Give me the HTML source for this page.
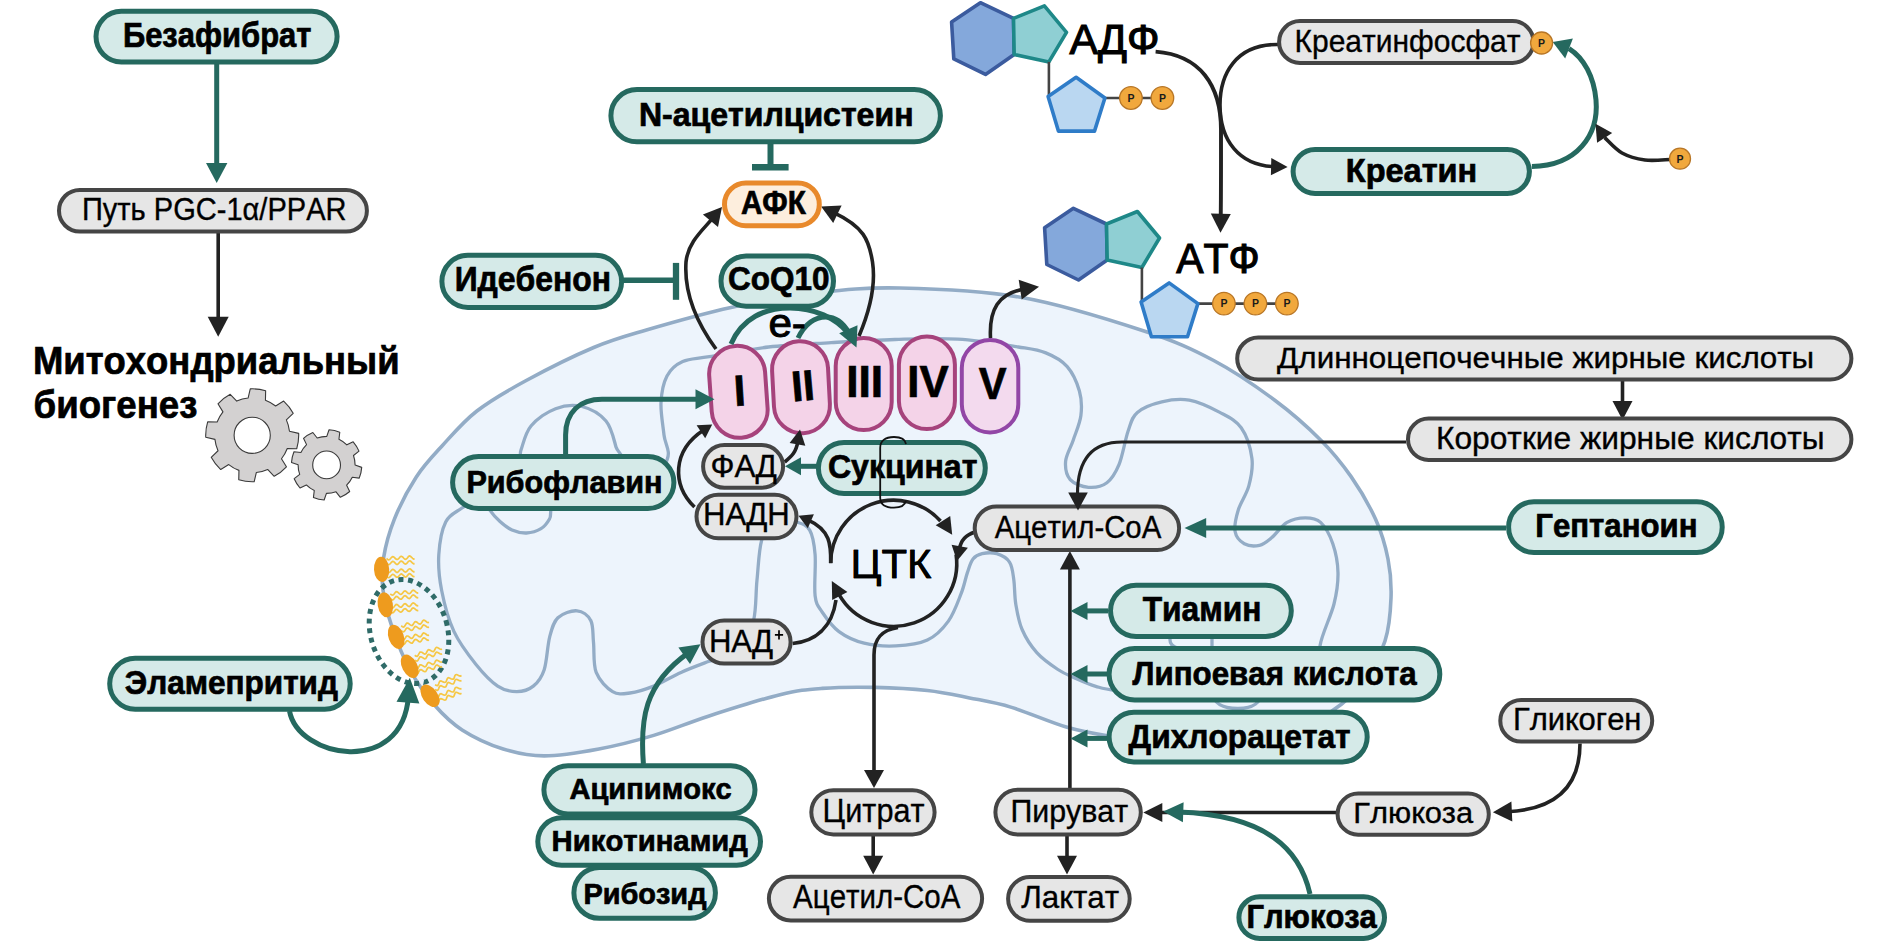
<!DOCTYPE html>
<html><head><meta charset="utf-8"><style>
html,body{margin:0;padding:0;background:#fff;}
svg{display:block;font-family:"Liberation Sans",sans-serif;font-kerning:none;}
</style></head><body>
<svg width="1878" height="950" viewBox="0 0 1878 950">
<rect width="1878" height="950" fill="#fff"/>
<path d="M 383.0,590.0 C 381.6,578.5 381.7,569.6 383.6,557.7 C 385.5,545.9 389.1,532.4 394.5,518.9 C 399.9,505.4 408.4,489.1 416.3,477.0 C 424.2,464.9 431.9,457.0 442.0,446.0 C 452.1,435.0 463.0,421.8 476.9,411.0 C 490.8,400.2 505.8,391.6 525.3,381.0 C 544.8,370.4 573.5,356.0 593.7,347.5 C 613.9,339.0 623.5,336.7 646.4,330.0 C 669.3,323.3 702.9,313.7 731.0,307.5 C 759.1,301.3 786.8,296.2 815.0,293.0 C 843.2,289.8 865.5,287.2 900.0,288.0 C 934.5,288.8 981.3,290.3 1022.0,297.5 C 1062.7,304.7 1112.0,320.5 1144.0,331.0 C 1176.0,341.5 1191.9,349.0 1213.7,360.5 C 1235.5,372.0 1257.0,387.0 1274.8,400.2 C 1292.6,413.4 1307.9,427.2 1320.6,439.9 C 1333.3,452.6 1341.9,463.4 1351.1,476.6 C 1360.3,489.8 1369.4,505.6 1375.6,519.3 C 1381.8,533.0 1385.4,545.9 1388.0,559.0 C 1390.6,572.1 1391.5,584.3 1391.0,598.0 C 1390.5,611.7 1389.2,627.8 1385.0,641.0 C 1380.8,654.2 1373.2,666.5 1366.0,677.0 C 1358.8,687.5 1352.7,695.5 1341.7,704.0 C 1330.7,712.5 1317.0,721.7 1300.0,728.0 C 1283.0,734.3 1261.7,739.3 1240.0,742.0 C 1218.3,744.7 1191.0,744.9 1170.0,744.0 C 1149.0,743.1 1130.7,739.5 1113.7,736.8 C 1096.7,734.1 1085.0,732.5 1068.0,727.6 C 1051.0,722.7 1028.0,712.4 1011.6,707.4 C 995.2,702.4 983.5,700.7 969.5,697.9 C 955.5,695.1 943.2,692.2 927.4,690.5 C 911.6,688.8 892.2,687.8 874.7,687.4 C 857.2,687.0 837.9,687.2 822.1,688.4 C 806.3,689.6 799.0,690.1 780.0,694.7 C 761.0,699.3 729.4,709.4 708.4,716.2 C 687.4,723.0 672.0,729.9 653.7,735.4 C 635.5,740.9 617.1,745.6 598.9,749.0 C 580.6,752.4 560.2,755.9 544.2,755.9 C 528.2,755.9 516.9,753.3 503.2,749.0 C 489.5,744.7 473.5,737.2 462.1,729.9 C 450.7,722.6 443.4,715.3 434.7,705.3 C 426.0,695.3 417.1,683.0 410.0,670.0 C 402.9,657.0 396.5,640.3 392.0,627.0 C 387.5,613.7 384.4,601.5 383.0,590.0 Z" fill="#EDF4FC" stroke="#93ACC6" stroke-width="3.6"/>
<path d="M 709.4,356.6 C 695.1,359.0 689.8,358.3 682.7,361.5 C 675.6,364.7 670.6,369.1 667.0,376.0 C 663.4,382.9 661.5,392.9 661.0,402.7 C 660.5,412.5 663.0,425.4 664.0,435.0 C 665.0,444.6 671.0,450.8 667.0,460.0 C 663.0,469.2 655.3,482.5 640.0,490.0 C 624.7,497.5 589.7,502.3 575.0,505.0 C 560.3,507.7 556.0,504.8 552.0,506.0 C 548.0,507.2 551.1,509.8 550.7,512.0 C 550.3,514.2 551.1,516.2 549.5,519.0 C 547.9,521.8 544.8,526.4 541.0,528.7 C 537.2,531.0 531.3,532.8 526.5,533.0 C 521.7,533.2 516.4,531.9 512.0,530.0 C 507.6,528.1 503.6,524.7 500.0,521.5 C 496.4,518.3 492.5,513.9 490.2,510.6 C 487.9,507.4 484.4,505.4 486.0,502.0 C 487.6,498.6 487.7,493.7 500.0,490.0 C 512.3,486.3 540.3,484.7 560.0,480.0 C 579.7,475.3 608.7,467.5 618.0,462.0 C 627.3,456.5 618.0,453.8 616.0,447.0 C 614.0,440.2 611.7,427.8 606.0,421.0 C 600.3,414.2 590.4,408.6 582.0,406.5 C 573.6,404.4 564.1,405.4 555.6,408.7 C 547.1,411.9 536.8,419.1 531.0,426.0 C 525.2,432.9 523.2,444.0 521.0,450.0 C 518.8,456.0 523.2,455.3 518.0,462.0 C 512.8,468.7 499.3,482.3 490.0,490.0 C 480.7,497.7 469.4,502.7 462.0,508.0 C 454.6,513.3 449.6,514.1 445.7,521.9 C 441.8,529.7 439.5,543.3 438.8,554.7 C 438.1,566.1 439.1,577.5 441.6,590.3 C 444.1,603.1 448.2,619.1 453.9,631.4 C 459.6,643.7 468.5,655.1 475.8,664.2 C 483.1,673.3 490.9,681.5 497.7,686.1 C 504.5,690.7 510.9,691.6 516.8,691.6 C 522.7,691.6 528.7,689.8 533.3,686.1 C 537.9,682.5 541.5,677.9 544.2,669.7 C 546.9,661.5 547.4,645.5 549.7,636.8 C 552.0,628.1 553.4,622.0 557.9,617.7 C 562.4,613.4 571.5,610.3 577.0,610.8 C 582.5,611.2 588.0,615.1 590.7,620.4 C 593.5,625.6 592.6,633.6 593.5,642.3 C 594.4,651.0 593.0,664.2 596.2,672.4 C 599.4,680.6 607.0,688.2 612.6,691.6 C 618.2,695.0 623.1,693.9 630.0,693.0 C 636.9,692.1 645.2,689.5 653.7,686.1 C 662.2,682.7 671.9,676.5 681.0,672.4 C 690.1,668.3 698.6,665.2 708.4,661.5 C 718.2,657.8 732.5,656.9 740.0,650.0 C 747.5,643.1 750.8,632.1 753.6,620.4 C 756.4,608.7 755.6,593.5 757.0,580.0 C 758.4,566.5 758.8,549.7 761.8,539.7 C 764.8,529.7 769.3,523.0 775.0,520.0 C 780.7,517.0 790.2,520.2 796.0,521.9 C 801.8,523.6 806.5,524.6 809.7,530.1 C 812.9,535.6 814.2,543.8 815.1,554.7 C 816.0,565.7 813.9,586.2 815.1,595.8 C 816.3,605.3 818.1,606.0 822.1,612.0 C 826.1,618.0 832.0,626.4 839.0,631.6 C 846.0,636.8 854.7,640.8 864.2,643.2 C 873.7,645.6 885.3,646.4 895.8,645.9 C 906.3,645.4 918.6,644.1 927.4,640.0 C 936.2,635.9 942.8,628.8 948.4,621.1 C 954.0,613.4 957.9,601.8 961.1,593.7 C 964.3,585.6 965.4,578.4 967.4,572.6 C 969.4,566.8 970.5,562.1 973.0,559.0 C 975.5,555.9 978.1,554.6 982.1,553.7 C 986.1,552.8 992.2,552.3 996.8,553.7 C 1001.4,555.1 1006.7,557.9 1009.5,562.1 C 1012.3,566.3 1012.7,571.9 1013.7,578.9 C 1014.8,585.9 1014.4,595.8 1015.8,604.2 C 1017.2,612.6 1018.6,621.4 1022.1,629.5 C 1025.6,637.6 1030.8,645.9 1036.8,652.6 C 1042.8,659.3 1051.6,665.3 1057.9,669.5 C 1064.2,673.7 1068.4,675.1 1074.7,677.9 C 1081.0,680.7 1088.8,684.2 1095.8,686.3 C 1102.8,688.4 1102.8,689.0 1116.8,690.5 C 1130.8,692.0 1156.1,694.2 1180.0,695.0 C 1203.9,695.8 1239.2,696.2 1260.0,695.0 C 1280.8,693.8 1294.0,692.5 1305.0,688.0 C 1316.0,683.5 1323.5,675.0 1326.0,668.0 C 1328.5,661.0 1318.7,656.7 1320.0,646.0 C 1321.3,635.3 1331.0,616.2 1334.0,604.0 C 1337.0,591.8 1338.2,582.8 1338.0,572.8 C 1337.8,562.8 1335.7,552.1 1332.8,543.7 C 1329.9,535.3 1325.2,526.7 1320.6,522.4 C 1316.0,518.1 1310.9,517.8 1305.3,517.8 C 1299.7,517.8 1292.6,519.1 1287.0,522.4 C 1281.4,525.7 1276.4,533.8 1271.8,537.6 C 1267.2,541.4 1264.1,544.3 1259.5,545.3 C 1254.9,546.3 1248.4,546.0 1244.3,543.7 C 1240.2,541.4 1236.1,537.1 1235.1,531.5 C 1234.1,525.9 1235.9,517.8 1238.2,510.2 C 1240.5,502.6 1246.6,494.4 1248.9,485.7 C 1251.2,477.0 1253.2,467.9 1251.9,458.2 C 1250.6,448.5 1246.6,435.3 1241.2,427.7 C 1235.8,420.1 1228.5,417.0 1219.8,412.4 C 1211.1,407.8 1199.0,402.0 1189.3,400.2 C 1179.6,398.4 1170.4,399.8 1161.8,401.8 C 1153.2,403.8 1143.0,407.6 1137.4,412.4 C 1131.8,417.2 1131.2,422.1 1128.2,430.8 C 1125.2,439.5 1122.6,455.8 1119.1,464.4 C 1115.5,473.0 1112.0,478.9 1106.9,482.7 C 1101.8,486.5 1094.6,487.8 1088.5,487.3 C 1082.4,486.8 1074.0,483.9 1070.2,479.6 C 1066.4,475.3 1065.1,467.9 1065.6,461.3 C 1066.1,454.7 1070.8,447.5 1073.3,439.9 C 1075.8,432.3 1079.9,423.6 1080.9,415.5 C 1081.9,407.4 1081.7,399.1 1079.4,391.0 C 1077.1,382.9 1072.8,373.0 1067.2,366.6 C 1061.6,360.2 1054.0,356.2 1045.8,352.9 C 1037.6,349.6 1033.0,349.3 1018.3,347.0 C 1003.6,344.7 978.1,340.4 957.6,339.2 C 937.1,337.9 916.1,338.9 895.0,339.5 C 873.9,340.1 852.3,341.4 831.2,342.6 C 810.1,343.9 788.9,344.7 768.6,347.0 C 748.3,349.3 723.7,354.2 709.4,356.6 Z" fill="none" stroke="#93ACC6" stroke-width="3.3" stroke-linecap="butt" />
<path d="M 1212,615 L 1212,690 C 1212,704 1224,708.5 1238,708.5 C 1252,708.5 1262,703 1262,690 L 1262,665 C 1262,652 1240,650 1200,650 C 1180,650 1170,648 1170,640 L 1170,615" fill="none" stroke="#93ACC6" stroke-width="3.3" stroke-linecap="butt" />
<ellipse cx="409" cy="631.5" rx="38.5" ry="53" transform="rotate(-16 409 631.5)" fill="none" stroke="#2F6B68" stroke-width="5" stroke-dasharray="5 4.6"/>
<path d="M 386.6,558.4 L 387.6,559.5 L 388.7,559.9 L 389.6,559.5 L 390.6,558.5 L 391.6,557.3 L 392.5,556.6 L 393.5,556.8 L 394.6,557.6 L 395.6,558.8 L 396.6,559.5 L 397.6,559.5 L 398.6,558.7 L 399.6,557.5 L 400.5,556.5 L 401.5,556.3 L 402.6,556.9 L 403.6,558.0 L 404.6,559.0 L 405.6,559.3 L 406.6,558.8 L 407.6,557.7 L 408.5,556.5 L 409.5,556.0 L 410.5,556.3 L 411.6,557.3 L 412.6,558.4 L 413.6,559.0 L 414.6,558.8" fill="none" stroke="#F6C744" stroke-width="1.7"/>
<path d="M 386.6,563.2 L 387.6,564.3 L 388.7,564.7 L 389.6,564.3 L 390.6,563.3 L 391.6,562.1 L 392.5,561.4 L 393.5,561.6 L 394.6,562.4 L 395.6,563.6 L 396.6,564.3 L 397.6,564.3 L 398.6,563.5 L 399.6,562.3 L 400.5,561.3 L 401.5,561.1 L 402.6,561.7 L 403.6,562.8 L 404.6,563.8 L 405.6,564.1 L 406.6,563.6 L 407.6,562.5 L 408.5,561.3 L 409.5,560.8 L 410.5,561.1 L 411.6,562.1 L 412.6,563.2 L 413.6,563.8 L 414.6,563.6" fill="none" stroke="#F6C744" stroke-width="1.7"/>
<path d="M 386.6,571.2 L 387.6,572.3 L 388.7,572.7 L 389.6,572.3 L 390.6,571.3 L 391.6,570.1 L 392.5,569.4 L 393.5,569.6 L 394.6,570.4 L 395.6,571.6 L 396.6,572.3 L 397.6,572.3 L 398.6,571.5 L 399.6,570.3 L 400.5,569.3 L 401.5,569.1 L 402.6,569.7 L 403.6,570.8 L 404.6,571.8 L 405.6,572.1 L 406.6,571.6 L 407.6,570.5 L 408.5,569.3 L 409.5,568.8 L 410.5,569.1 L 411.6,570.1 L 412.6,571.2 L 413.6,571.8 L 414.6,571.6" fill="none" stroke="#F6C744" stroke-width="1.7"/>
<path d="M 386.6,576.1 L 387.6,577.2 L 388.7,577.6 L 389.6,577.2 L 390.6,576.2 L 391.6,575.0 L 392.5,574.3 L 393.5,574.5 L 394.6,575.3 L 395.6,576.5 L 396.6,577.2 L 397.6,577.2 L 398.6,576.4 L 399.6,575.2 L 400.5,574.2 L 401.5,574.0 L 402.6,574.6 L 403.6,575.7 L 404.6,576.7 L 405.6,577.0 L 406.6,576.5 L 407.6,575.4 L 408.5,574.2 L 409.5,573.7 L 410.5,574.0 L 411.6,575.0 L 412.6,576.1 L 413.6,576.7 L 414.6,576.5" fill="none" stroke="#F6C744" stroke-width="1.7"/>
<path d="M 390.3,593.8 L 391.4,594.8 L 392.4,595.2 L 393.4,594.8 L 394.3,593.7 L 395.2,592.5 L 396.1,591.7 L 397.2,591.8 L 398.2,592.6 L 399.3,593.7 L 400.4,594.4 L 401.4,594.3 L 402.3,593.4 L 403.2,592.2 L 404.1,591.2 L 405.1,590.9 L 406.2,591.5 L 407.3,592.6 L 408.3,593.5 L 409.4,593.7 L 410.3,593.1 L 411.2,592.0 L 412.1,590.8 L 413.1,590.2 L 414.1,590.5 L 415.2,591.4 L 416.3,592.4 L 417.3,593.0 L 418.3,592.7" fill="none" stroke="#F6C744" stroke-width="1.7"/>
<path d="M 390.3,598.6 L 391.4,599.6 L 392.4,600.0 L 393.4,599.6 L 394.3,598.5 L 395.2,597.3 L 396.1,596.5 L 397.2,596.6 L 398.2,597.4 L 399.3,598.5 L 400.4,599.2 L 401.4,599.1 L 402.3,598.2 L 403.2,597.0 L 404.1,596.0 L 405.1,595.7 L 406.2,596.3 L 407.3,597.4 L 408.3,598.3 L 409.4,598.5 L 410.3,597.9 L 411.2,596.8 L 412.1,595.6 L 413.1,595.0 L 414.1,595.3 L 415.2,596.2 L 416.3,597.2 L 417.3,597.8 L 418.3,597.5" fill="none" stroke="#F6C744" stroke-width="1.7"/>
<path d="M 390.3,606.6 L 391.4,607.6 L 392.4,608.0 L 393.4,607.6 L 394.3,606.5 L 395.2,605.3 L 396.1,604.5 L 397.2,604.6 L 398.2,605.4 L 399.3,606.5 L 400.4,607.2 L 401.4,607.1 L 402.3,606.2 L 403.2,605.0 L 404.1,604.0 L 405.1,603.7 L 406.2,604.3 L 407.3,605.4 L 408.3,606.3 L 409.4,606.5 L 410.3,605.9 L 411.2,604.8 L 412.1,603.6 L 413.1,603.0 L 414.1,603.3 L 415.2,604.2 L 416.3,605.2 L 417.3,605.8 L 418.3,605.5" fill="none" stroke="#F6C744" stroke-width="1.7"/>
<path d="M 390.3,611.5 L 391.4,612.5 L 392.4,612.9 L 393.4,612.5 L 394.3,611.4 L 395.2,610.2 L 396.1,609.4 L 397.2,609.5 L 398.2,610.3 L 399.3,611.4 L 400.4,612.1 L 401.4,612.0 L 402.3,611.1 L 403.2,609.9 L 404.1,608.9 L 405.1,608.6 L 406.2,609.2 L 407.3,610.3 L 408.3,611.2 L 409.4,611.4 L 410.3,610.8 L 411.2,609.7 L 412.1,608.5 L 413.1,607.9 L 414.1,608.2 L 415.2,609.1 L 416.3,610.1 L 417.3,610.7 L 418.3,610.4" fill="none" stroke="#F6C744" stroke-width="1.7"/>
<path d="M 401.2,625.8 L 402.4,626.7 L 403.4,627.0 L 404.4,626.5 L 405.2,625.3 L 406.0,624.0 L 406.8,623.2 L 407.9,623.2 L 409.0,623.9 L 410.2,624.9 L 411.3,625.5 L 412.3,625.4 L 413.1,624.4 L 413.9,623.1 L 414.7,622.0 L 415.7,621.7 L 416.8,622.1 L 418.0,623.1 L 419.1,623.9 L 420.2,624.1 L 421.1,623.4 L 421.9,622.2 L 422.7,620.9 L 423.6,620.2 L 424.6,620.4 L 425.8,621.2 L 427.0,622.2 L 428.1,622.6 L 429.0,622.3" fill="none" stroke="#F6C744" stroke-width="1.7"/>
<path d="M 401.2,630.6 L 402.4,631.5 L 403.4,631.8 L 404.4,631.3 L 405.2,630.1 L 406.0,628.8 L 406.8,628.0 L 407.9,628.0 L 409.0,628.7 L 410.2,629.7 L 411.3,630.3 L 412.3,630.2 L 413.1,629.2 L 413.9,627.9 L 414.7,626.8 L 415.7,626.5 L 416.8,626.9 L 418.0,627.9 L 419.1,628.7 L 420.2,628.9 L 421.1,628.2 L 421.9,627.0 L 422.7,625.7 L 423.6,625.0 L 424.6,625.2 L 425.8,626.0 L 427.0,627.0 L 428.1,627.4 L 429.0,627.1" fill="none" stroke="#F6C744" stroke-width="1.7"/>
<path d="M 401.2,638.6 L 402.4,639.5 L 403.4,639.8 L 404.4,639.3 L 405.2,638.1 L 406.0,636.8 L 406.8,636.0 L 407.9,636.0 L 409.0,636.7 L 410.2,637.7 L 411.3,638.3 L 412.3,638.2 L 413.1,637.2 L 413.9,635.9 L 414.7,634.8 L 415.7,634.5 L 416.8,634.9 L 418.0,635.9 L 419.1,636.7 L 420.2,636.9 L 421.1,636.2 L 421.9,635.0 L 422.7,633.7 L 423.6,633.0 L 424.6,633.2 L 425.8,634.0 L 427.0,635.0 L 428.1,635.4 L 429.0,635.1" fill="none" stroke="#F6C744" stroke-width="1.7"/>
<path d="M 401.2,643.5 L 402.4,644.4 L 403.4,644.7 L 404.4,644.2 L 405.2,643.0 L 406.0,641.7 L 406.8,640.9 L 407.9,640.9 L 409.0,641.6 L 410.2,642.6 L 411.3,643.2 L 412.3,643.1 L 413.1,642.1 L 413.9,640.8 L 414.7,639.7 L 415.7,639.4 L 416.8,639.8 L 418.0,640.8 L 419.1,641.6 L 420.2,641.8 L 421.1,641.1 L 421.9,639.9 L 422.7,638.6 L 423.6,637.9 L 424.6,638.1 L 425.8,638.9 L 427.0,639.9 L 428.1,640.3 L 429.0,640.0" fill="none" stroke="#F6C744" stroke-width="1.7"/>
<path d="M 414.7,655.3 L 416.0,656.1 L 417.1,656.3 L 417.9,655.7 L 418.6,654.4 L 419.3,653.1 L 420.0,652.1 L 421.0,652.0 L 422.3,652.6 L 423.5,653.5 L 424.7,654.0 L 425.7,653.7 L 426.4,652.7 L 427.1,651.3 L 427.8,650.1 L 428.7,649.7 L 429.8,650.0 L 431.1,650.8 L 432.3,651.5 L 433.4,651.6 L 434.2,650.8 L 434.9,649.5 L 435.5,648.2 L 436.4,647.4 L 437.4,647.5 L 438.7,648.2 L 439.9,649.0 L 441.1,649.4 L 442.0,648.9" fill="none" stroke="#F6C744" stroke-width="1.7"/>
<path d="M 414.7,660.1 L 416.0,660.9 L 417.1,661.1 L 417.9,660.5 L 418.6,659.2 L 419.3,657.9 L 420.0,656.9 L 421.0,656.8 L 422.3,657.4 L 423.5,658.3 L 424.7,658.8 L 425.7,658.5 L 426.4,657.5 L 427.1,656.1 L 427.8,654.9 L 428.7,654.5 L 429.8,654.8 L 431.1,655.6 L 432.3,656.3 L 433.4,656.4 L 434.2,655.6 L 434.9,654.3 L 435.5,653.0 L 436.4,652.2 L 437.4,652.3 L 438.7,653.0 L 439.9,653.8 L 441.1,654.2 L 442.0,653.7" fill="none" stroke="#F6C744" stroke-width="1.7"/>
<path d="M 414.7,668.1 L 416.0,668.9 L 417.1,669.1 L 417.9,668.5 L 418.6,667.2 L 419.3,665.9 L 420.0,664.9 L 421.0,664.8 L 422.3,665.4 L 423.5,666.3 L 424.7,666.8 L 425.7,666.5 L 426.4,665.5 L 427.1,664.1 L 427.8,662.9 L 428.7,662.5 L 429.8,662.8 L 431.1,663.6 L 432.3,664.3 L 433.4,664.4 L 434.2,663.6 L 434.9,662.3 L 435.5,661.0 L 436.4,660.2 L 437.4,660.3 L 438.7,661.0 L 439.9,661.8 L 441.1,662.2 L 442.0,661.7" fill="none" stroke="#F6C744" stroke-width="1.7"/>
<path d="M 414.7,673.0 L 416.0,673.8 L 417.1,674.0 L 417.9,673.4 L 418.6,672.1 L 419.3,670.8 L 420.0,669.8 L 421.0,669.7 L 422.3,670.3 L 423.5,671.2 L 424.7,671.7 L 425.7,671.4 L 426.4,670.4 L 427.1,669.0 L 427.8,667.8 L 428.7,667.4 L 429.8,667.7 L 431.1,668.5 L 432.3,669.2 L 433.4,669.3 L 434.2,668.5 L 434.9,667.2 L 435.5,665.9 L 436.4,665.1 L 437.4,665.2 L 438.7,665.9 L 439.9,666.7 L 441.1,667.1 L 442.0,666.6" fill="none" stroke="#F6C744" stroke-width="1.7"/>
<path d="M 435.0,684.8 L 436.3,685.4 L 437.5,685.5 L 438.3,684.8 L 438.8,683.5 L 439.3,682.1 L 440.0,681.1 L 441.0,680.9 L 442.2,681.4 L 443.6,682.1 L 444.8,682.4 L 445.8,682.1 L 446.4,680.9 L 446.9,679.5 L 447.5,678.3 L 448.3,677.7 L 449.5,678.0 L 450.9,678.7 L 452.2,679.2 L 453.2,679.2 L 454.0,678.3 L 454.5,676.9 L 455.0,675.5 L 455.7,674.7 L 456.8,674.6 L 458.1,675.2 L 459.4,675.9 L 460.6,676.1 L 461.5,675.6" fill="none" stroke="#F6C744" stroke-width="1.7"/>
<path d="M 435.0,689.6 L 436.3,690.2 L 437.5,690.3 L 438.3,689.6 L 438.8,688.3 L 439.3,686.9 L 440.0,685.9 L 441.0,685.7 L 442.2,686.2 L 443.6,686.9 L 444.8,687.2 L 445.8,686.9 L 446.4,685.7 L 446.9,684.3 L 447.5,683.1 L 448.3,682.5 L 449.5,682.8 L 450.9,683.5 L 452.2,684.0 L 453.2,684.0 L 454.0,683.1 L 454.5,681.7 L 455.0,680.3 L 455.7,679.5 L 456.8,679.4 L 458.1,680.0 L 459.4,680.7 L 460.6,680.9 L 461.5,680.4" fill="none" stroke="#F6C744" stroke-width="1.7"/>
<path d="M 435.0,697.6 L 436.3,698.2 L 437.5,698.3 L 438.3,697.6 L 438.8,696.3 L 439.3,694.9 L 440.0,693.9 L 441.0,693.7 L 442.2,694.2 L 443.6,694.9 L 444.8,695.2 L 445.8,694.9 L 446.4,693.7 L 446.9,692.3 L 447.5,691.1 L 448.3,690.5 L 449.5,690.8 L 450.9,691.5 L 452.2,692.0 L 453.2,692.0 L 454.0,691.1 L 454.5,689.7 L 455.0,688.3 L 455.7,687.5 L 456.8,687.4 L 458.1,688.0 L 459.4,688.7 L 460.6,688.9 L 461.5,688.4" fill="none" stroke="#F6C744" stroke-width="1.7"/>
<path d="M 435.0,702.5 L 436.3,703.1 L 437.5,703.2 L 438.3,702.5 L 438.8,701.2 L 439.3,699.8 L 440.0,698.8 L 441.0,698.6 L 442.2,699.1 L 443.6,699.8 L 444.8,700.1 L 445.8,699.8 L 446.4,698.6 L 446.9,697.2 L 447.5,696.0 L 448.3,695.4 L 449.5,695.7 L 450.9,696.4 L 452.2,696.9 L 453.2,696.9 L 454.0,696.0 L 454.5,694.6 L 455.0,693.2 L 455.7,692.4 L 456.8,692.3 L 458.1,692.9 L 459.4,693.6 L 460.6,693.8 L 461.5,693.3" fill="none" stroke="#F6C744" stroke-width="1.7"/>
<ellipse cx="381.6" cy="569.4" rx="7.6" ry="12.6" transform="rotate(-3 381.6 569.4)" fill="#EE9B1E"/>
<ellipse cx="385.3" cy="604.8" rx="7.6" ry="12.6" transform="rotate(-10 385.3 604.8)" fill="#EE9B1E"/>
<ellipse cx="396.2" cy="636.8" rx="7.6" ry="12.6" transform="rotate(-20 396.2 636.8)" fill="#EE9B1E"/>
<ellipse cx="409.7" cy="666.3" rx="7.6" ry="12.6" transform="rotate(-28 409.7 666.3)" fill="#EE9B1E"/>
<ellipse cx="430" cy="695.8" rx="7.6" ry="12.6" transform="rotate(-35 430 695.8)" fill="#EE9B1E"/>
<path d="M 248.09,398.03 L 250.26,388.84 A 46.5,46.5 0 0 1 265.64,390.78 L 265.45,400.22 A 37.5,37.5 0 0 1 275.65,406.04 L 283.68,401.07 A 46.5,46.5 0 0 1 293.18,413.32 L 286.38,419.86 A 37.5,37.5 0 0 1 289.47,431.19 L 298.66,433.36 A 46.5,46.5 0 0 1 296.72,448.74 L 287.28,448.55 A 37.5,37.5 0 0 1 281.46,458.75 L 286.43,466.78 A 46.5,46.5 0 0 1 274.18,476.28 L 267.64,469.48 A 37.5,37.5 0 0 1 256.31,472.57 L 254.14,481.76 A 46.5,46.5 0 0 1 238.76,479.82 L 238.95,470.38 A 37.5,37.5 0 0 1 228.75,464.56 L 220.72,469.53 A 46.5,46.5 0 0 1 211.22,457.28 L 218.02,450.74 A 37.5,37.5 0 0 1 214.93,439.41 L 205.74,437.24 A 46.5,46.5 0 0 1 207.68,421.86 L 217.12,422.05 A 37.5,37.5 0 0 1 222.94,411.85 L 217.97,403.82 A 46.5,46.5 0 0 1 230.22,394.32 L 236.76,401.12 A 37.5,37.5 0 0 1 248.09,398.03 Z M 270.3,435.3 A 18.1,18.1 0 1 0 234.1,435.3 A 18.1,18.1 0 1 0 270.3,435.3 Z" fill="#D3D1D1" stroke="#3a3a3a" stroke-width="1.1" fill-rule="evenodd" stroke-linejoin="round"/>
<path d="M 326.77,436.40 L 329.06,429.79 A 35.2,35.2 0 0 1 339.78,432.26 L 338.94,439.21 A 28.5,28.5 0 0 1 346.87,444.86 L 353.17,441.81 A 35.2,35.2 0 0 1 359.00,451.14 L 353.49,455.47 A 28.5,28.5 0 0 1 355.10,465.07 L 361.71,467.36 A 35.2,35.2 0 0 1 359.24,478.08 L 352.29,477.24 A 28.5,28.5 0 0 1 346.64,485.17 L 349.69,491.47 A 35.2,35.2 0 0 1 340.36,497.30 L 336.03,491.79 A 28.5,28.5 0 0 1 326.43,493.40 L 324.14,500.01 A 35.2,35.2 0 0 1 313.42,497.54 L 314.26,490.59 A 28.5,28.5 0 0 1 306.33,484.94 L 300.03,487.99 A 35.2,35.2 0 0 1 294.20,478.66 L 299.71,474.33 A 28.5,28.5 0 0 1 298.10,464.73 L 291.49,462.44 A 35.2,35.2 0 0 1 293.96,451.72 L 300.91,452.56 A 28.5,28.5 0 0 1 306.56,444.63 L 303.51,438.33 A 35.2,35.2 0 0 1 312.84,432.50 L 317.17,438.01 A 28.5,28.5 0 0 1 326.77,436.40 Z M 340.5,464.9 A 13.9,13.9 0 1 0 312.7,464.9 A 13.9,13.9 0 1 0 340.5,464.9 Z" fill="#D3D1D1" stroke="#3a3a3a" stroke-width="1.1" fill-rule="evenodd" stroke-linejoin="round"/>
<rect x="710.4" y="345.8" width="56.0" height="92.0" rx="28.0" fill="#F4D3E8" stroke="#A6437C" stroke-width="4" transform="rotate(-4 738.4 391.8)"/>
<rect x="773.0" y="341.3" width="56.0" height="92.0" rx="28.0" fill="#F4D3E8" stroke="#A6437C" stroke-width="4" transform="rotate(-3 801.0 387.3)"/>
<rect x="835.7" y="338.0" width="56.0" height="92.0" rx="28.0" fill="#F4D3E8" stroke="#A6437C" stroke-width="4" transform="rotate(0 863.7 384.0)"/>
<rect x="898.9" y="336.6" width="56.0" height="92.5" rx="28.0" fill="#F4D3E8" stroke="#A6437C" stroke-width="4" transform="rotate(0 926.9 382.8)"/>
<rect x="961.8" y="339.9" width="56.5" height="92.5" rx="28.2" fill="#F3DAEE" stroke="#9246A6" stroke-width="4" transform="rotate(0 990.0 386.2)"/>
<path d="M 216.7,64.0 L 216.7,168.0" fill="none" stroke="#25695F" stroke-width="5" stroke-linecap="butt" />
<polygon points="216.7,183.0 206.0,163.0 227.4,163.0" fill="#25695F"/>
<path d="M 218.2,233.0 L 218.2,321.8" fill="none" stroke="#222222" stroke-width="3.6" stroke-linecap="butt" />
<polygon points="218.2,336.8 207.7,316.8 228.7,316.8" fill="#222222"/>
<path d="M 770.5,143 L 770.5,167" fill="none" stroke="#25695F" stroke-width="6" stroke-linecap="butt" />
<path d="M 752,167.2 L 788.6,167.2" fill="none" stroke="#25695F" stroke-width="6.5" stroke-linecap="butt" />
<path d="M 623,280.3 L 676,280.3" fill="none" stroke="#25695F" stroke-width="5.5" stroke-linecap="butt" />
<path d="M 676,262.9 L 676,299.8" fill="none" stroke="#25695F" stroke-width="6.3" stroke-linecap="butt" />
<path d="M 716.0,349.0 C 697.0,323.0 684.0,292.0 686.0,262.0 C 688.0,242.0 702.7,230.2 713.4,217.4 " fill="none" stroke="#222222" stroke-width="3.6" stroke-linecap="butt" />
<polygon points="722.0,207.0 718.0,227.1 702.9,214.6" fill="#222222"/>
<path d="M 859.0,336.0 C 870.0,310.0 876.0,285.0 872.5,262.0 C 869.0,240.0 864.1,226.9 833.3,212.4 " fill="none" stroke="#222222" stroke-width="3.6" stroke-linecap="butt" />
<polygon points="821.1,206.6 841.6,205.4 833.2,223.1" fill="#222222"/>
<path d="M 731,344 C 742,318 765,308 790,308 C 814,308 836,318 848,333" fill="none" stroke="#25695F" stroke-width="5" stroke-linecap="butt" />
<path d="M 798,338 C 805,324 815,317 826,317 C 836,317 844,324 849,333" fill="none" stroke="#25695F" stroke-width="5" stroke-linecap="butt" />
<polygon points="856.5,347.5 839.2,333.3 857.5,325.2" fill="#25695F"/>
<path d="M 990.5,338.0 C 989.0,310.0 998.0,293.1 1024.9,289.0 " fill="none" stroke="#222222" stroke-width="3.6" stroke-linecap="butt" />
<polygon points="1039.0,286.8 1021.7,299.6 1018.7,279.8" fill="#222222"/>
<path d="M 565.6,456.0 C 565.6,435.0 565.6,435.0 565.6,435.0 C 565.6,412.0 580.0,399.2 602.0,399.2 C 640.0,399.2 672.9,399.2 700.2,399.2 " fill="none" stroke="#25695F" stroke-width="5" stroke-linecap="butt" />
<polygon points="714.5,399.2 695.5,409.2 695.5,389.2" fill="#25695F"/>
<path d="M 694.5,507.0 C 672.0,485.0 671.8,450.8 703.7,429.9 " fill="none" stroke="#222222" stroke-width="3.6" stroke-linecap="butt" />
<polygon points="712.2,424.4 705.2,438.3 696.6,425.2" fill="#222222"/>
<path d="M 784.7,462.0 C 792.0,456.0 796.0,452.5 798.1,440.7 " fill="none" stroke="#222222" stroke-width="3.6" stroke-linecap="butt" />
<polygon points="800.0,429.6 805.3,445.7 789.6,443.0" fill="#222222"/>
<path d="M 817.0,466.3 L 797.0,466.3" fill="none" stroke="#25695F" stroke-width="5" stroke-linecap="butt" />
<polygon points="785.0,466.3 801.0,457.3 801.0,475.3" fill="#25695F"/>
<path d="M 830.7,563.2 A 63,63 0 0 1 940.5,521.0" fill="none" stroke="#222222" stroke-width="3.6" stroke-linecap="butt" />
<polygon points="952.2,534.8 935.7,525.2 950.2,515.9" fill="#222222"/>
<path d="M 956.1,554.4 A 63,63 0 0 1 839.1,594.7" fill="none" stroke="#222222" stroke-width="3.6" stroke-linecap="butt" />
<polygon points="831.8,581.0 847.4,592.0 832.2,600.0" fill="#222222"/>
<path d="M 830.7,563.0 C 831.0,545.0 830.6,530.1 807.8,519.9 " fill="none" stroke="#222222" stroke-width="3.6" stroke-linecap="butt" />
<polygon points="798.5,515.8 813.9,514.3 807.8,528.2" fill="#222222"/>
<path d="M 792.6,643.5 C 815,641 832,628 836,600" fill="none" stroke="#222222" stroke-width="3.6" stroke-linecap="butt" />
<path d="M 975.0,532.0 C 966.0,535.0 961.0,539.5 959.1,549.9 " fill="none" stroke="#222222" stroke-width="3.6" stroke-linecap="butt" />
<polygon points="957.0,561.0 951.6,544.7 967.9,547.8" fill="#222222"/>
<path d="M 898.0,627.5 C 882.0,630.0 874.0,638.0 874.0,655.0 C 874.0,700.0 874.0,733.2 874.0,774.5 " fill="none" stroke="#222222" stroke-width="3.6" stroke-linecap="butt" />
<polygon points="874.0,788.0 864.0,770.0 884.0,770.0" fill="#222222"/>
<path d="M 873.2,836.0 L 873.2,860.5" fill="none" stroke="#222222" stroke-width="3.6" stroke-linecap="butt" />
<polygon points="873.2,874.5 863.2,855.8 883.2,855.8" fill="#222222"/>
<path d="M 1067.0,836.0 L 1067.0,860.5" fill="none" stroke="#222222" stroke-width="3.6" stroke-linecap="butt" />
<polygon points="1067.0,874.5 1057.0,855.8 1077.0,855.8" fill="#222222"/>
<path d="M 1069.9,790.0 L 1069.9,565.0" fill="none" stroke="#222222" stroke-width="3.6" stroke-linecap="butt" />
<polygon points="1069.9,551.1 1079.9,569.6 1059.9,569.6" fill="#222222"/>
<path d="M 1108.0,610.9 L 1083.2,610.9" fill="none" stroke="#25695F" stroke-width="5" stroke-linecap="butt" />
<polygon points="1070.5,610.9 1087.5,601.9 1087.5,619.9" fill="#25695F"/>
<path d="M 1108.0,674.0 L 1083.2,674.0" fill="none" stroke="#25695F" stroke-width="5" stroke-linecap="butt" />
<polygon points="1070.5,674.0 1087.5,665.0 1087.5,683.0" fill="#25695F"/>
<path d="M 1108.0,738.4 L 1083.2,738.4" fill="none" stroke="#25695F" stroke-width="5" stroke-linecap="butt" />
<polygon points="1070.5,738.4 1087.5,729.4 1087.5,747.4" fill="#25695F"/>
<path d="M 1406,442 L 1122,442 C 1094,442 1077.5,458 1077.5,494" fill="none" stroke="#222222" stroke-width="3.1" stroke-linecap="butt" />
<path d="M 1506.0,528.1 L 1200.8,528.1" fill="none" stroke="#25695F" stroke-width="5" stroke-linecap="butt" />
<polygon points="1184.5,528.1 1206.2,518.1 1206.2,538.1" fill="#25695F"/>
<path d="M 1622.5,380.0 L 1622.5,405.8" fill="none" stroke="#222222" stroke-width="3.6" stroke-linecap="butt" />
<polygon points="1622.5,419.9 1612.5,401.1 1632.5,401.1" fill="#222222"/>
<path d="M 1580.0,743.5 C 1580.0,790.0 1552.1,809.7 1507.1,811.7 " fill="none" stroke="#222222" stroke-width="3.6" stroke-linecap="butt" />
<polygon points="1492.9,812.3 1511.4,801.5 1512.3,821.5" fill="#222222"/>
<path d="M 1336.0,812.5 L 1157.5,812.5" fill="none" stroke="#222222" stroke-width="3.6" stroke-linecap="butt" />
<polygon points="1143.3,812.5 1162.3,803.0 1162.3,822.0" fill="#222222"/>
<path d="M 1310.0,894.0 C 1300.0,850.0 1267.5,815.3 1178.3,812.1 " fill="none" stroke="#25695F" stroke-width="5" stroke-linecap="butt" />
<polygon points="1163.3,811.6 1183.6,802.3 1182.9,822.3" fill="#25695F"/>
<path d="M 643.4,764.0 C 640.0,720.0 643.9,684.3 688.3,652.9 " fill="none" stroke="#25695F" stroke-width="5" stroke-linecap="butt" />
<polygon points="700.5,644.2 690.0,663.9 678.4,647.6" fill="#25695F"/>
<path d="M 289.5,711.0 C 298.0,758.0 402.3,777.3 408.4,696.4 " fill="none" stroke="#25695F" stroke-width="5" stroke-linecap="butt" />
<polygon points="409.8,677.7 419.4,703.5 396.5,701.8" fill="#25695F"/>
<path d="M 1155.6,51.6 C 1200.0,55.0 1221.0,85.0 1221.0,130.0 C 1221.0,170.0 1221.1,192.9 1220.7,218.6 " fill="none" stroke="#222222" stroke-width="3.9" stroke-linecap="butt" />
<polygon points="1220.5,232.8 1210.8,213.6 1230.8,214.0" fill="#222222"/>
<path d="M 1278.0,44.5 C 1235.0,44.0 1220.0,75.0 1220.0,105.0 C 1220.0,140.0 1238.8,165.9 1275.2,166.7 " fill="none" stroke="#222222" stroke-width="3.6" stroke-linecap="butt" />
<polygon points="1287.6,167.0 1270.9,175.2 1271.3,158.0" fill="#222222"/>
<path d="M 1531.9,166.5 C 1577,166 1599,135 1596,100 C 1594,77 1584,58 1569,48.6" fill="none" stroke="#25695F" stroke-width="5" stroke-linecap="butt" />
<polygon points="1552.7,42.1 1572.9,38.4 1565.2,58.4" fill="#25695F"/>
<path d="M 1670.0,159.5 C 1665.8,159.6 1653.0,161.1 1645.0,160.0 C 1637.0,158.9 1628.7,156.7 1622.0,153.0 C 1615.3,149.3 1607.6,140.2 1604.7,137.7 " fill="none" stroke="#222222" stroke-width="3.6" stroke-linecap="butt" />
<polygon points="1595.5,123.7 1612.2,132.9 1597.1,142.7" fill="#222222"/>
<rect x="59.0" y="189.9" width="307.9" height="41.7" rx="20.8" fill="#E6E6E6" stroke="#454545" stroke-width="4"/>
<rect x="1279.1" y="21.1" width="254.4" height="41.8" rx="20.9" fill="#E6E6E6" stroke="#454545" stroke-width="4"/>
<rect x="1237.2" y="337.6" width="614.2" height="42.0" rx="21.0" fill="#E6E6E6" stroke="#454545" stroke-width="4"/>
<rect x="1408.0" y="418.6" width="443.4" height="41.3" rx="20.6" fill="#E6E6E6" stroke="#454545" stroke-width="4"/>
<rect x="703.1" y="445.1" width="80.0" height="42.6" rx="21.3" fill="#E6E6E6" stroke="#454545" stroke-width="4"/>
<rect x="696.5" y="494.8" width="100.0" height="43.4" rx="21.7" fill="#E6E6E6" stroke="#454545" stroke-width="4"/>
<rect x="702.5" y="620.4" width="88.1" height="43.2" rx="21.6" fill="#E6E6E6" stroke="#454545" stroke-width="4"/>
<rect x="974.7" y="506.6" width="204.4" height="43.4" rx="21.7" fill="#E6E6E6" stroke="#454545" stroke-width="4"/>
<rect x="811.3" y="790.2" width="123.3" height="44.2" rx="22.1" fill="#E6E6E6" stroke="#454545" stroke-width="4"/>
<rect x="768.9" y="876.8" width="213.2" height="43.6" rx="21.8" fill="#E6E6E6" stroke="#454545" stroke-width="4"/>
<rect x="995.4" y="789.8" width="145.4" height="44.7" rx="22.4" fill="#E6E6E6" stroke="#454545" stroke-width="4"/>
<rect x="1008.1" y="877.0" width="121.6" height="43.7" rx="21.9" fill="#E6E6E6" stroke="#454545" stroke-width="4"/>
<rect x="1337.6" y="793.6" width="151.2" height="41.1" rx="20.6" fill="#E6E6E6" stroke="#454545" stroke-width="4"/>
<rect x="1500.3" y="699.9" width="151.9" height="41.7" rx="20.9" fill="#E6E6E6" stroke="#454545" stroke-width="4"/>
<rect x="96.0" y="11.3" width="241.1" height="50.6" rx="25.3" fill="#D5EAE8" stroke="#25695F" stroke-width="5"/>
<rect x="610.9" y="89.6" width="329.5" height="52.2" rx="26.1" fill="#D5EAE8" stroke="#25695F" stroke-width="5"/>
<rect x="441.9" y="255.3" width="179.7" height="52.1" rx="26.0" fill="#D5EAE8" stroke="#25695F" stroke-width="5"/>
<rect x="721.0" y="256.0" width="112.5" height="50.2" rx="25.1" fill="#D5EAE8" stroke="#25695F" stroke-width="5"/>
<rect x="452.6" y="456.6" width="221.3" height="52.0" rx="26.0" fill="#D5EAE8" stroke="#25695F" stroke-width="5"/>
<rect x="818.4" y="442.4" width="166.9" height="51.2" rx="25.6" fill="#D5EAE8" stroke="#25695F" stroke-width="5"/>
<rect x="109.7" y="658.2" width="240.5" height="51.1" rx="25.5" fill="#D5EAE8" stroke="#25695F" stroke-width="5"/>
<rect x="1293.1" y="149.5" width="236.3" height="44.0" rx="22.0" fill="#D5EAE8" stroke="#25695F" stroke-width="5"/>
<rect x="1508.6" y="501.8" width="213.6" height="50.7" rx="25.3" fill="#D5EAE8" stroke="#25695F" stroke-width="5"/>
<rect x="1110.5" y="585.2" width="180.8" height="51.2" rx="25.6" fill="#D5EAE8" stroke="#25695F" stroke-width="5"/>
<rect x="1109.1" y="648.6" width="330.7" height="51.3" rx="25.6" fill="#D5EAE8" stroke="#25695F" stroke-width="5"/>
<rect x="1109.1" y="712.3" width="258.1" height="49.6" rx="24.8" fill="#D5EAE8" stroke="#25695F" stroke-width="5"/>
<rect x="1238.9" y="896.8" width="145.6" height="41.6" rx="20.8" fill="#D5EAE8" stroke="#25695F" stroke-width="5"/>
<rect x="543.9" y="765.8" width="211.1" height="48.1" rx="24.1" fill="#D5EAE8" stroke="#25695F" stroke-width="5"/>
<rect x="537.8" y="817.7" width="222.7" height="47.5" rx="23.8" fill="#D5EAE8" stroke="#25695F" stroke-width="5"/>
<rect x="573.9" y="867.4" width="141.5" height="50.9" rx="25.4" fill="#D5EAE8" stroke="#25695F" stroke-width="5"/>
<rect x="724.5" y="183.1" width="94.8" height="42.6" rx="21.3" fill="#FDEEDD" stroke="#E8892B" stroke-width="5"/>
<polygon points="980.4,2.7 1013.5,18.4 1014.2,54.5 985.5,74.4 953.8,58.9 951.6,22.1" fill="#84A8DB" stroke="#3B5B9E" stroke-width="3.6" stroke-linejoin="round"/>
<polygon points="1013.5,18.4 1044.4,5.9 1066.5,32.4 1048.9,61.9 1014.2,54.5" fill="#8FCFD3" stroke="#1E8888" stroke-width="3.6" stroke-linejoin="round"/>
<line x1="1048.9" y1="61.9" x2="1048.9" y2="96.5" stroke="#444" stroke-width="2.6"/>
<line x1="1104.9" y1="98" x2="1162.4" y2="98" stroke="#444" stroke-width="2.6"/>
<polygon points="1048.1,96.5 1076.1,77.3 1104.9,98.0 1094.5,131.1 1058.4,131.1" fill="#BAD7F1" stroke="#2F7CC8" stroke-width="3.6" stroke-linejoin="round"/>
<circle cx="1130.9" cy="98.0" r="11.3" fill="#F1A83D" stroke="#B87626" stroke-width="1.3"/>
<text x="1130.9" y="101.8" font-size="10.5" font-weight="bold" text-anchor="middle" fill="#1a1a1a">P</text>
<circle cx="1162.4" cy="98.0" r="11.3" fill="#F1A83D" stroke="#B87626" stroke-width="1.3"/>
<text x="1162.4" y="101.8" font-size="10.5" font-weight="bold" text-anchor="middle" fill="#1a1a1a">P</text>
<polygon points="1073.4,208.3 1106.5,224.0 1107.2,260.1 1078.5,280.0 1046.8,264.5 1044.6,227.7" fill="#84A8DB" stroke="#3B5B9E" stroke-width="3.6" stroke-linejoin="round"/>
<polygon points="1106.5,224.0 1137.4,211.5 1159.5,238.0 1141.9,267.5 1107.2,260.1" fill="#8FCFD3" stroke="#1E8888" stroke-width="3.6" stroke-linejoin="round"/>
<line x1="1141.9" y1="267.5" x2="1141.9" y2="302.1" stroke="#444" stroke-width="2.6"/>
<line x1="1197.9" y1="303.6" x2="1286.9" y2="303.6" stroke="#444" stroke-width="2.6"/>
<polygon points="1141.1,302.1 1169.1,282.9 1197.9,303.6 1187.5,336.7 1151.4,336.7" fill="#BAD7F1" stroke="#2F7CC8" stroke-width="3.6" stroke-linejoin="round"/>
<circle cx="1223.9" cy="303.6" r="11.3" fill="#F1A83D" stroke="#B87626" stroke-width="1.3"/>
<text x="1223.9" y="307.4" font-size="10.5" font-weight="bold" text-anchor="middle" fill="#1a1a1a">P</text>
<circle cx="1255.4" cy="303.6" r="11.3" fill="#F1A83D" stroke="#B87626" stroke-width="1.3"/>
<text x="1255.4" y="307.4" font-size="10.5" font-weight="bold" text-anchor="middle" fill="#1a1a1a">P</text>
<circle cx="1286.9" cy="303.6" r="11.3" fill="#F1A83D" stroke="#B87626" stroke-width="1.3"/>
<text x="1286.9" y="307.4" font-size="10.5" font-weight="bold" text-anchor="middle" fill="#1a1a1a">P</text>
<text x="122.9" y="47.1" font-size="34.30" font-weight="bold" textLength="188.5" lengthAdjust="spacingAndGlyphs" fill="#000" stroke="#000" stroke-width="0.7">Безафибрат</text>
<text x="81.9" y="220.4" font-size="30.67" font-weight="normal" textLength="264.6" lengthAdjust="spacingAndGlyphs" fill="#000" stroke="#000" stroke-width="0.35">Путь PGC-1α/PPAR</text>
<text x="638.9" y="125.7" font-size="32.56" font-weight="bold" textLength="274.6" lengthAdjust="spacingAndGlyphs" fill="#000" stroke="#000" stroke-width="0.7">N-ацетилцистеин</text>
<text x="740.9" y="214.2" font-size="32.56" font-weight="bold" textLength="65.0" lengthAdjust="spacingAndGlyphs" fill="#000" stroke="#000" stroke-width="0.7">АФК</text>
<text x="454.7" y="290.9" font-size="34.16" font-weight="bold" textLength="156.4" lengthAdjust="spacingAndGlyphs" fill="#000" stroke="#000" stroke-width="0.7">Идебенон</text>
<text x="728.0" y="289.7" font-size="32.41" font-weight="bold" textLength="101.4" lengthAdjust="spacingAndGlyphs" fill="#000" stroke="#000" stroke-width="0.7">CoQ10</text>
<text x="466.4" y="492.6" font-size="31.10" font-weight="bold" textLength="196.2" lengthAdjust="spacingAndGlyphs" fill="#000" stroke="#000" stroke-width="0.7">Рибофлавин</text>
<text x="710.5" y="476.5" font-size="31.83" font-weight="normal" textLength="66.3" lengthAdjust="spacingAndGlyphs" fill="#000" stroke="#000" stroke-width="0.35">ФАД</text>
<text x="702.9" y="525.0" font-size="30.67" font-weight="normal" textLength="86.9" lengthAdjust="spacingAndGlyphs" fill="#000" stroke="#000" stroke-width="0.35">НАДН</text>
<text x="827.9" y="478.3" font-size="32.99" font-weight="bold" textLength="149.5" lengthAdjust="spacingAndGlyphs" fill="#000" stroke="#000" stroke-width="0.7">Сукцинат</text>
<text x="850.4" y="577.7" font-size="40.41" font-weight="normal" textLength="81.2" lengthAdjust="spacingAndGlyphs" fill="#000" stroke="#000" stroke-width="0.35">ЦТК</text>
<text x="708.9" y="651.7" font-size="31.25" font-weight="normal" textLength="64.3" lengthAdjust="spacingAndGlyphs" fill="#000" stroke="#000" stroke-width="0.35">НАД</text>
<text x="994.7" y="537.5" font-size="30.67" font-weight="normal" textLength="166.6" lengthAdjust="spacingAndGlyphs" fill="#000" stroke="#000" stroke-width="0.35">Ацетил-CoA</text>
<text x="1142.7" y="621.3" font-size="34.45" font-weight="bold" textLength="118.7" lengthAdjust="spacingAndGlyphs" fill="#000" stroke="#000" stroke-width="0.7">Тиамин</text>
<text x="1132.5" y="684.7" font-size="32.99" font-weight="bold" textLength="284.1" lengthAdjust="spacingAndGlyphs" fill="#000" stroke="#000" stroke-width="0.7">Липоевая кислота</text>
<text x="1128.6" y="747.7" font-size="33.28" font-weight="bold" textLength="222.0" lengthAdjust="spacingAndGlyphs" fill="#000" stroke="#000" stroke-width="0.7">Дихлорацетат</text>
<text x="1277.1" y="367.8" font-size="29.80" font-weight="normal" textLength="537.1" lengthAdjust="spacingAndGlyphs" fill="#000" stroke="#000" stroke-width="0.35">Длинноцепочечные жирные кислоты</text>
<text x="1435.9" y="449.1" font-size="30.96" font-weight="normal" textLength="388.6" lengthAdjust="spacingAndGlyphs" fill="#000" stroke="#000" stroke-width="0.35">Короткие жирные кислоты</text>
<text x="1294.5" y="51.6" font-size="31.40" font-weight="normal" textLength="226.0" lengthAdjust="spacingAndGlyphs" fill="#000" stroke="#000" stroke-width="0.35">Креатинфосфат</text>
<text x="1345.8" y="182.0" font-size="33.43" font-weight="bold" textLength="131.4" lengthAdjust="spacingAndGlyphs" fill="#000" stroke="#000" stroke-width="0.7">Креатин</text>
<text x="1535.3" y="537.3" font-size="33.58" font-weight="bold" textLength="162.2" lengthAdjust="spacingAndGlyphs" fill="#000" stroke="#000" stroke-width="0.7">Гептаноин</text>
<text x="1512.9" y="730.4" font-size="30.67" font-weight="normal" textLength="128.6" lengthAdjust="spacingAndGlyphs" fill="#000" stroke="#000" stroke-width="0.35">Гликоген</text>
<text x="1353.3" y="822.6" font-size="29.22" font-weight="normal" textLength="119.9" lengthAdjust="spacingAndGlyphs" fill="#000" stroke="#000" stroke-width="0.35">Глюкоза</text>
<text x="822.6" y="822.0" font-size="33.43" font-weight="normal" textLength="101.9" lengthAdjust="spacingAndGlyphs" fill="#000" stroke="#000" stroke-width="0.35">Цитрат</text>
<text x="793.1" y="907.7" font-size="32.70" font-weight="normal" textLength="167.3" lengthAdjust="spacingAndGlyphs" fill="#000" stroke="#000" stroke-width="0.35">Ацетил-CoA</text>
<text x="1010.4" y="821.5" font-size="30.81" font-weight="normal" textLength="117.7" lengthAdjust="spacingAndGlyphs" fill="#000" stroke="#000" stroke-width="0.35">Пируват</text>
<text x="1021.3" y="907.7" font-size="31.10" font-weight="normal" textLength="97.8" lengthAdjust="spacingAndGlyphs" fill="#000" stroke="#000" stroke-width="0.35">Лактат</text>
<text x="569.5" y="798.8" font-size="30.23" font-weight="bold" textLength="162.2" lengthAdjust="spacingAndGlyphs" fill="#000" stroke="#000" stroke-width="0.7">Аципимокс</text>
<text x="551.6" y="851.2" font-size="30.09" font-weight="bold" textLength="196.3" lengthAdjust="spacingAndGlyphs" fill="#000" stroke="#000" stroke-width="0.7">Никотинамид</text>
<text x="583.4" y="903.8" font-size="28.78" font-weight="bold" textLength="123.1" lengthAdjust="spacingAndGlyphs" fill="#000" stroke="#000" stroke-width="0.7">Рибозид</text>
<text x="124.8" y="694.1" font-size="33.14" font-weight="bold" textLength="213.2" lengthAdjust="spacingAndGlyphs" fill="#000" stroke="#000" stroke-width="0.7">Эламепритид</text>
<text x="1246.4" y="927.7" font-size="33.28" font-weight="bold" textLength="130.4" lengthAdjust="spacingAndGlyphs" fill="#000" stroke="#000" stroke-width="0.7">Глюкоза</text>
<text x="32.9" y="374.4" font-size="38.81" font-weight="bold" textLength="366.8" lengthAdjust="spacingAndGlyphs" fill="#000" stroke="#000" stroke-width="0.7">Митохондриальный</text>
<text x="850.4" y="577.7" font-size="40.41" font-weight="normal" textLength="81.2" lengthAdjust="spacingAndGlyphs" fill="#000" stroke="#000" stroke-width="0.35">ЦТК</text>
<text x="846.2" y="397.4" font-size="43.90" font-weight="bold" textLength="37.0" lengthAdjust="spacingAndGlyphs" fill="#000" stroke="#000" stroke-width="0.7">III</text>
<text x="907.3" y="396.6" font-size="43.75" font-weight="bold" textLength="41.3" lengthAdjust="spacingAndGlyphs" fill="#000" stroke="#000" stroke-width="0.7">IV</text>
<text x="978.7" y="399.4" font-size="43.90" font-weight="bold" textLength="27.8" lengthAdjust="spacingAndGlyphs" fill="#000" stroke="#000" stroke-width="0.7">V</text>
<g transform="rotate(-3.5 739.5 390.8)">
<text x="733.8" y="405.8" font-size="43.60" font-weight="bold" textLength="11.6" lengthAdjust="spacingAndGlyphs" fill="#000" stroke="#000" stroke-width="0.7">I</text>
</g>
<g transform="rotate(-5 802.8 385.7)">
<text x="791.5" y="400.5" font-size="42.88" font-weight="bold" textLength="22.7" lengthAdjust="spacingAndGlyphs" fill="#000" stroke="#000" stroke-width="0.7">II</text>
</g>
<text x="768.4" y="336.5" font-size="40.34" font-weight="normal" textLength="37.5" lengthAdjust="spacingAndGlyphs" fill="#000" stroke="#000" stroke-width="1.0">e-</text>
<path d="M 774.9,634.8 L 783.1,634.8 M 779,630.2 L 779,639.4" stroke="#000" stroke-width="1.7" fill="none"/>
<circle cx="1541.6" cy="43.0" r="11" fill="#F1A83D" stroke="#B87626" stroke-width="1.3"/>
<text x="1541.6" y="46.8" font-size="10.5" font-weight="bold" text-anchor="middle" fill="#1a1a1a">P</text>
<circle cx="1680.0" cy="158.7" r="10.5" fill="#F1A83D" stroke="#B87626" stroke-width="1.3"/>
<text x="1680.0" y="162.5" font-size="10.5" font-weight="bold" text-anchor="middle" fill="#1a1a1a">P</text>
<text x="1069.5" y="53.7" font-size="41.86" font-weight="normal" textLength="89.9" lengthAdjust="spacingAndGlyphs" fill="#000" stroke="#000" stroke-width="1.1">АДФ</text>
<text x="1176.3" y="272.6" font-size="42.15" font-weight="normal" textLength="83.4" lengthAdjust="spacingAndGlyphs" fill="#000" stroke="#000" stroke-width="1.1">АТФ</text>
<text x="33.6" y="418.0" font-size="38.83" font-weight="bold" textLength="163.8" lengthAdjust="spacingAndGlyphs" fill="#000" stroke="#000" stroke-width="0.7">биогенез</text>
<path d="M 906,444 C 905,438 900,437 894,437 C 885,437 880,441 880.2,448 L 880.2,498 C 880.5,505 886,507.7 894,507.7 C 901,507.7 905,505 906,500.8" fill="none" stroke="#111" stroke-width="1.8"/>
<polygon points="1078.0,510.5 1068.2,492.5 1087.8,492.5" fill="#222222"/>
</svg></body></html>
